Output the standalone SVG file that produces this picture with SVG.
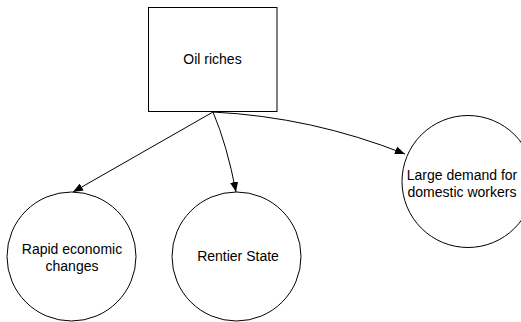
<svg xmlns="http://www.w3.org/2000/svg" width="521" height="322" viewBox="0 0 521 322">
  <style>
    .shape { fill: #ffffff; stroke: #000000; stroke-width: 1; }
    .label { font-family: "Liberation Sans", Arial, sans-serif; font-size: 14px; fill: #000000; text-anchor: middle; }
    .edge { fill: none; stroke: #000000; stroke-width: 1; marker-end: url(#arrow); }
  </style>
  <defs>
    <marker id="arrow" viewBox="0 0 10 8" refX="10" refY="4" markerWidth="10" markerHeight="8" markerUnits="userSpaceOnUse" orient="auto">
      <path d="M0,0 L10,4 L0,8 Z" fill="#000000"/>
    </marker>
  </defs>
  <rect width="521" height="322" fill="#ffffff"/>

  <g id="oil-riches">
    <rect class="shape" x="148.5" y="7.5" width="128.5" height="104"/>
    <text class="label" x="212.5" y="64">Oil riches</text>
  </g>

  <g id="rapid-economic-changes">
    <circle class="shape" cx="71.5" cy="256.5" r="64.5"/>
    <text class="label" x="72" y="254">Rapid economic</text>
    <text class="label" x="72" y="271">changes</text>
  </g>

  <g id="rentier-state">
    <circle class="shape" cx="236.5" cy="256.5" r="64.5"/>
    <text class="label" x="238" y="261">Rentier State</text>
  </g>

  <g id="domestic-workers">
    <circle class="shape" cx="468" cy="181.5" r="66"/>
    <text class="label" x="462" y="180">Large demand for</text>
    <text class="label" x="462" y="197">domestic workers</text>
  </g>

  <g id="connectors">
    <path class="edge" d="M213,112 L73,192"/>
    <path class="edge" d="M213,112 Q227,145 236,192"/>
    <path class="edge" d="M213,112 Q312,117 405,154"/>
  </g>
</svg>
